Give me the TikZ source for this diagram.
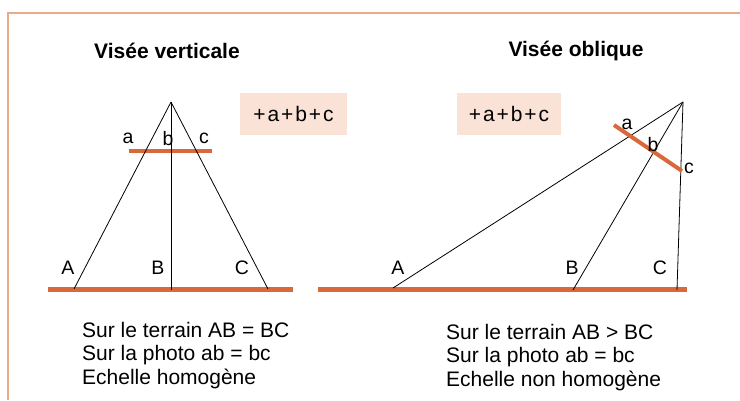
\documentclass[tikz,border=0pt]{standalone}
\usepackage{fontspec}
\setmainfont{Liberation Sans}
\definecolor{bar}{HTML}{D9693B}
\definecolor{boxfill}{HTML}{FAE3D6}
\definecolor{framecol}{HTML}{EBAA8E}
\begin{document}
\begin{tikzpicture}[x=1pt,y=1pt,
  ray/.style={line width=0.8pt},
  grnd/.style={bar,line width=5pt},
  photo/.style={bar,line width=4pt},
  lbl/.style={font=\fontsize{19.5}{22}\selectfont,inner sep=0pt},
  ttl/.style={font=\fontsize{21}{24}\selectfont\bfseries,inner sep=0pt},
  sumbox/.style={fill=boxfill,draw=none,minimum width=#1,minimum height=42pt,inner sep=0pt,
    font=\fontsize{21}{22}\selectfont\addfontfeature{LetterSpace=9}},
  txt/.style={font=\fontsize{21}{23.5}\selectfont,align=left,inner sep=0pt,anchor=north west}]
\useasboundingbox (0,0) rectangle (740,400);
% frame
\draw[framecol,line width=1.5pt] (8,0) -- (8,387) -- (740,387);
% titles
\node[ttl] (t1) at (167,349) {Visée verticale};
\node[ttl] (t2) at (576,349) {Visée oblique};
% ---------- left diagram
\coordinate (OL) at (171,298);
\coordinate (GL1) at (48,110.5);
\coordinate (GL2) at (293,110.5);
\coordinate (AL) at (74,111);
\coordinate (BL) at (171,110);
\coordinate (CL) at (268,111);
\coordinate (PL1) at (129,249);
\coordinate (PL2) at (212,249);
\draw[grnd] (GL1) -- (GL2);
\draw[photo] (PL1) -- (PL2);
\draw[ray] (OL) -- (AL);
\draw[ray] (OL) -- (BL);
\draw[ray] (OL) -- (CL);
\node[lbl] (aL) at (128,262) {a};
\node[lbl] (bL) at (168,261) {b};
\node[lbl] (cL) at (204,262) {c};
\node[lbl] (AtL) at (68,132) {A};
\node[lbl] (BtL) at (158,132) {B};
\node[lbl] (CtL) at (242,132) {C};
\node[sumbox=107pt] (sL) at (293.5,286) {+a+b+c};
% ---------- right diagram
\coordinate (OR) at (683,298);
\coordinate (GR1) at (318,110.5);
\coordinate (GR2) at (687,110.5);
\coordinate (AR) at (393,112);
\coordinate (BR) at (573,110);
\coordinate (CR) at (677,110);
\coordinate (PR1) at (614,275);
\coordinate (PR2) at (682,229);
\draw[grnd] (GR1) -- (GR2);
\draw[ray] (OR) -- (AR);
\draw[ray] (OR) -- (BR);
\draw[ray] (OR) -- (CR);
\draw[photo] (PR1) -- (PR2);
\node[lbl] (aR) at (627,276) {a};
\node[lbl] (bR) at (653,255) {b};
\node[lbl] (cR) at (689,232) {c};
\node[lbl] (AtR) at (398,132) {A};
\node[lbl] (BtR) at (572,132) {B};
\node[lbl] (CtR) at (660,132) {C};
\node[sumbox=104pt] (sR) at (509,286) {+a+b+c};
% ---------- texts
\node[txt] (xL) at (82,78) {Sur le terrain AB = BC\\Sur la photo ab = bc\\Echelle homogène};
\node[txt] (xR) at (446,76) {Sur le terrain AB > BC\\Sur la photo ab = bc\\Echelle non homogène};
\end{tikzpicture}
\end{document}
